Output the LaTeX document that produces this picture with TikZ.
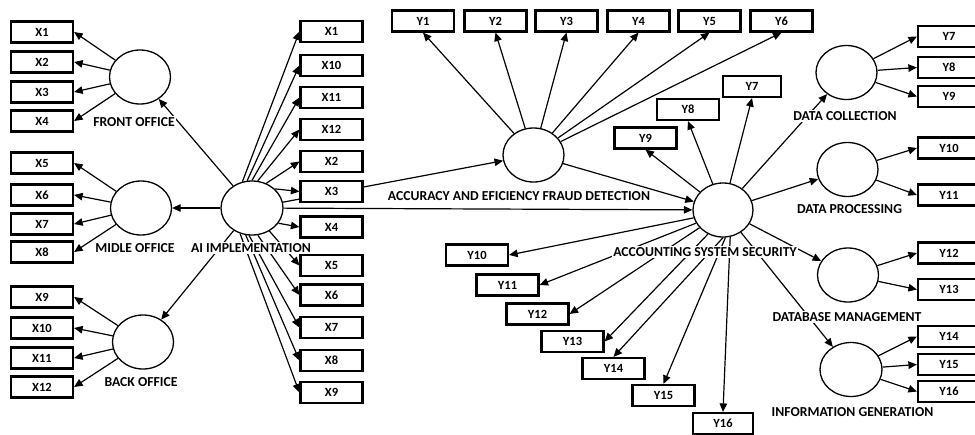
\documentclass[tikz,border=0pt]{standalone}
\usepackage{fontspec}
\setmainfont{Carlito}
\usetikzlibrary{arrows.meta,shapes.geometric,backgrounds}
\begin{document}
\begin{tikzpicture}[x=1pt,y=-1pt,
 box/.style={draw,line width=2.2pt,fill=white,minimum width=62pt,minimum height=21pt,inner sep=0pt,font=\fontsize{12.5}{12.5}\selectfont\bfseries},
 lat/.style={draw,ellipse,line width=1.3pt,fill=white,minimum width=61pt,minimum height=54pt,inner sep=0pt},
 lbl/.style={fill=white,inner sep=1.5pt,font=\fontsize{13.7}{13.7}\selectfont\bfseries},
 arr/.style={-{Triangle[length=8.5pt,width=7.5pt]},line width=1.2pt}]
\useasboundingbox (0,0) rectangle (975,434);
% left boxes
\node[box] (lx1) at (42,32) {X1};
\node[box] (lx2) at (42,62) {X2};
\node[box] (lx3) at (42,92) {X3};
\node[box] (lx4) at (42,121) {X4};
\node[box] (lx5) at (42,163) {X5};
\node[box] (lx6) at (42,195) {X6};
\node[box] (lx7) at (42,224) {X7};
\node[box] (lx8) at (42,252) {X8};
\node[box] (lx9) at (42,297) {X9};
\node[box] (lx10) at (42,328) {X10};
\node[box] (lx11) at (42,358) {X11};
\node[box] (lx12) at (42,387) {X12};
% middle boxes
\node[box] (mx1) at (331.5,31.5) {X1};
\node[box] (mx10) at (331.5,65.5) {X10};
\node[box] (mx11) at (331.5,97.5) {X11};
\node[box] (mx12) at (331.5,129.5) {X12};
\node[box] (mx2) at (331.5,161.5) {X2};
\node[box] (mx3) at (331.5,191.5) {X3};
\node[box] (mx4) at (331.5,227) {X4};
\node[box] (mx5) at (331.5,265.5) {X5};
\node[box] (mx6) at (331.5,295) {X6};
\node[box] (mx7) at (331.5,327.5) {X7};
\node[box] (mx8) at (331.5,360.5) {X8};
\node[box] (mx9) at (331.5,392.5) {X9};
% top Y boxes
\node[box] (ty1) at (423,21) {Y1};
\node[box] (ty2) at (495.5,21) {Y2};
\node[box] (ty3) at (566.5,21) {Y3};
\node[box] (ty4) at (638.5,21) {Y4};
\node[box] (ty5) at (709.5,21) {Y5};
\node[box] (ty6) at (781.5,21) {Y6};
% inner Y boxes
\node[box,minimum width=58pt] (iy7) at (752,86.5) {Y7};
\node[box] (iy8) at (688,109.5) {Y8};
\node[box] (iy9) at (645.5,138) {Y9};
% lower Y boxes
\node[box] (ly10) at (477,255) {Y10};
\node[box] (ly11) at (507.5,285) {Y11};
\node[box] (ly12) at (537.5,314) {Y12};
\node[box] (ly13) at (572.5,341.5) {Y13};
\node[box] (ly14) at (613.5,368.5) {Y14};
\node[box] (ly15) at (663.5,395.5) {Y15};
\node[box,minimum width=60pt] (ly16) at (723,423.5) {Y16};
% right Y boxes
\node[box] (ry7) at (949,36.5) {Y7};
\node[box] (ry8) at (949,67.5) {Y8};
\node[box] (ry9) at (949,96.5) {Y9};
\node[box] (ry10) at (949,148) {Y10};
\node[box] (ry11) at (949,195) {Y11};
\node[box] (ry12) at (949,253) {Y12};
\node[box] (ry13) at (949,289.5) {Y13};
\node[box] (ry14) at (949,336.5) {Y14};
\node[box] (ry15) at (949,364.5) {Y15};
\node[box] (ry16) at (949,391.5) {Y16};
% latent variables
\node[lat] (fo) at (140,77) {};
\node[lat] (mo) at (141,208) {};
\node[lat] (bo) at (143,342) {};
\node[lat,minimum width=62pt] (ai) at (252,208) {};
\node[lat] (acc) at (533.5,155) {};
\node[lat,minimum width=60pt] (ass) at (723,210) {};
\node[lat] (dc) at (846.5,72.5) {};
\node[lat] (dp) at (847.5,169.5) {};
\node[lat] (dm) at (848,275) {};
\node[lat,minimum width=62pt] (ig) at (851,369.5) {};
% labels
\node[lbl] (tfo) at (134,122) {FRONT OFFICE};
\node[lbl] (tmo) at (135,248) {MIDLE OFFICE};
\node[lbl] (tbo) at (141,382) {BACK OFFICE};
\node[lbl] (tai) at (251,248) {AI IMPLEMENTATION};
\node[lbl] (tacc) at (519,196) {ACCURACY AND EFICIENCY FRAUD DETECTION};
\node[lbl] (tass) at (705,252) {ACCOUNTING SYSTEM SECURITY};
\node[lbl] (tdc) at (845,116) {DATA COLLECTION};
\node[lbl] (tdp) at (849.5,209) {DATA PROCESSING};
\node[lbl] (tdm) at (847,317) {DATABASE MANAGEMENT};
\node[lbl] (tig) at (852.5,412) {INFORMATION GENERATION};
\begin{pgfonlayer}{background}
\fill[white] (0,0) rectangle (975,434);
\foreach \t in {lx1,lx2,lx3,lx4} \draw[arr] (fo) -- (\t.east);
\foreach \t in {lx5,lx6,lx7,lx8} \draw[arr] (mo) -- (\t.east);
\foreach \t in {lx9,lx10,lx11,lx12} \draw[arr] (bo) -- (\t.east);
\draw[arr] (ai) -- (fo);
\draw[arr] (ai) -- (mo);
\draw[arr] (ai) -- (bo);
\draw[arr] (ai.110) -- (mx1.west);
\draw[arr] (ai.100) -- (mx10.west);
\draw[arr] (ai.90) -- (mx11.west);
\draw[arr] (ai.78) -- (mx12.west);
\draw[arr] (ai.60) -- (mx2.west);
\draw[arr] (ai.40) -- (mx3.west);
\draw[arr] (ai.-30) -- (mx4.west);
\draw[arr] (ai.-53) -- (mx5.west);
\draw[arr] (ai.-78) -- (mx6.west);
\draw[arr] (ai.-96) -- (mx7.west);
\draw[arr] (ai.-103) -- (mx8.west);
\draw[arr] (ai.-115) -- (mx9.west);
\draw[arr] (ai) -- (acc);
\draw[arr] (ai) -- (ass);
\foreach \t in {ty1,ty2,ty3,ty4,ty5,ty6} \draw[arr] (acc) -- (\t.south);
\draw[arr] (acc) -- (ass);
\foreach \t in {iy7,iy8,iy9} \draw[arr] (ass) -- (\t.south);
\draw[arr] (ass.-165) -- (ly10.east);
\draw[arr] (ass.-154) -- (ly11.east);
\draw[arr] (ass.-143) -- (ly12.east);
\draw[arr] (ass.-122) -- (ly13.east);
\draw[arr] (ass.-90) -- (ly14.north);
\draw[arr] (ass.-85) -- (ly15.north);
\draw[arr] (ass.-75) -- (ly16.north);
\draw[arr] (ass) -- (dc);
\draw[arr] (ass) -- (dp);
\draw[arr] (ass) -- (dm);
\draw[arr] (ass) -- (ig);
\foreach \t in {ry7,ry8,ry9} \draw[arr] (dc) -- (\t.west);
\foreach \t in {ry10,ry11} \draw[arr] (dp) -- (\t.west);
\foreach \t in {ry12,ry13} \draw[arr] (dm) -- (\t.west);
\foreach \t in {ry14,ry15,ry16} \draw[arr] (ig) -- (\t.west);
\end{pgfonlayer}
\end{tikzpicture}
\end{document}
